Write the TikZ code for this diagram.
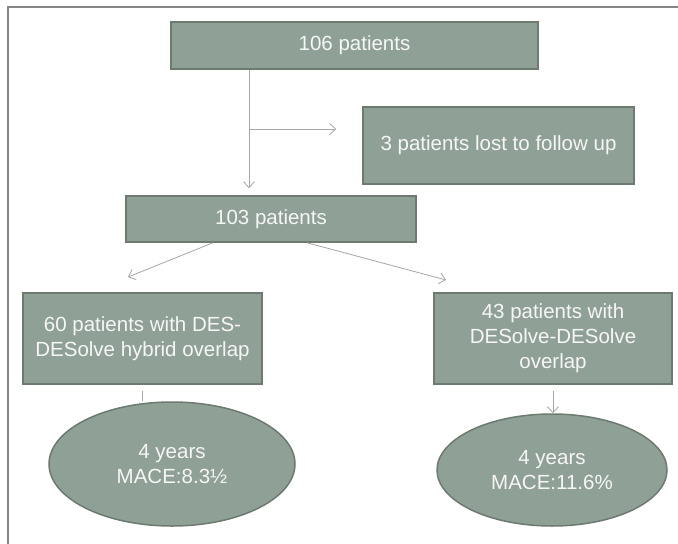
\documentclass[tikz,border=0pt]{standalone}
\usepackage{fontspec}
\setmainfont{Liberation Sans}
\usetikzlibrary{arrows.meta,shapes.geometric}
\definecolor{boxfill}{HTML}{8FA096}
\definecolor{boxline}{HTML}{6C7A70}
\definecolor{boxtext}{HTML}{F6F6F6}
\definecolor{linkgray}{HTML}{A6A6A6}
\definecolor{framegray}{HTML}{858585}

\begin{document}
\begin{tikzpicture}[x=1pt,y=-1pt,>={Straight Barb[length=6pt,width=11pt]},
    box/.style={shape=rectangle,draw=boxline,fill=boxfill,line width=1.5pt,text=boxtext,align=center,inner sep=0pt,font=\fontsize{20.5}{25}\selectfont},
    oval/.style={box,shape=ellipse},
    link/.style={draw=linkgray,line width=0.8pt}]
    \useasboundingbox (0,0) rectangle (678,544);
    \draw[framegray,line width=1.5pt] (678,7) -- (8,7) -- (8,544);
    \node[box,minimum width=367pt,minimum height=47pt] (106) at (354.5,45.5) {106 patients};
    \node[box,minimum width=271pt,minimum height=77pt] (3) at (498.5,145.5) {3 patients lost to follow up};
    \node[box,minimum width=290pt,minimum height=46pt] (103) at (271,219) {103 patients};
    \node[box,minimum width=239pt,minimum height=91pt] (60) at (142.5,338.5) {60 patients with DES-\\DESolve hybrid overlap};
    \node[box,minimum width=238pt,minimum height=91pt] (43) at (553,338.5) {43 patients with\\DESolve-DESolve\\overlap};
    \node[oval,minimum width=246pt,minimum height=124pt] (m60) at (172,464) {4 years\\MACE:8.3½};
    \node[oval,minimum width=230pt,minimum height=112pt] (m43) at (552,470) {4 years\\MACE:11.6\%};
    \coordinate (split) at (249,129);
    \coordinate (l) at (128,277);
    \coordinate (r) at (446,280);
    \path[link] (106.south -| split) edge[->,shorten >=7pt] (split |- 103.north);
    \path[link] (split) edge[->,shorten >=26pt] (split -| 3.west);
    \path[link] ([xshift=-58pt]103.south) edge[->] (l);
    \path[link] ([xshift=36pt]103.south) edge[->] (r);
    \path[link] (60.south) edge[shorten <=6pt] (60.south |- m60.north);
    \path[link] (43.south) edge[->,shorten <=6pt] (43.south |- m43.north);
\end{tikzpicture}
\end{document}
